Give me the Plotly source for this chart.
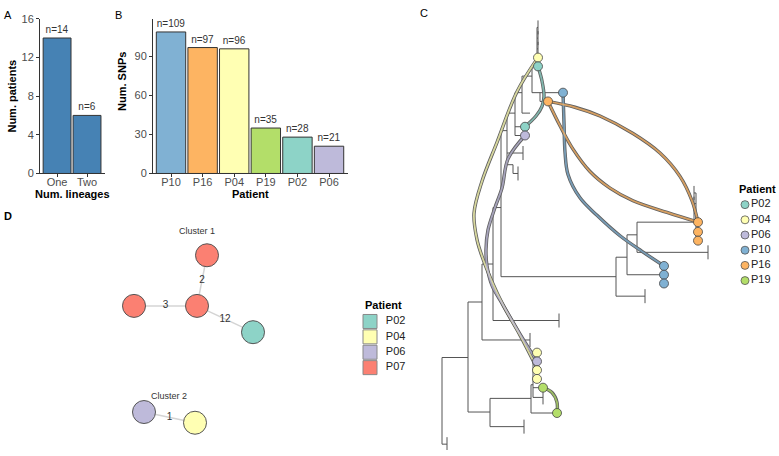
import plotly.graph_objects as go

# ---------------- data ----------------
lineage_cats = ["One", "Two"]
num_patients = [14, 6]

snp_patients = ["P10", "P16", "P04", "P19", "P02", "P06"]
num_snps = [109, 97, 96, 35, 28, 21]

patient_colors = {
    "P02": "#8DD3C7", "P04": "#FFFFB3", "P06": "#BEBADA",
    "P07": "#FB8072", "P10": "#80B1D3", "P16": "#FDB462", "P19": "#B3DE69",
}
tree_legend_patients = ["P02", "P04", "P06", "P10", "P16", "P19"]
net_legend_patients = ["P02", "P04", "P06", "P07"]

# phylogeny (rectangular layout): node id, parent, distance (x), row position (y), patient, tip-bar
tree_id = ["R", "t1", "N1", "N2", "N3", "N6", "t2", "N7", "t3", "P1", "Nb1",
           "P2", "t4", "P3", "t5", "U4", "tealB", "lav1", "t6", "U5", "Utop", "U6",
           "t7", "t8", "t8b", "yelA", "tealA", "blueA", "oraA",
           "Nb2", "t9", "Nb3", "Nbl", "Nor", "t10", "t11", "t12", "t12b", "or1", "or2", "or3",
           "bl1", "bl2", "bl3",
           "N4", "t13", "N5", "gr2", "y1", "lv2", "y2", "y3", "gr1", "t14"]
tree_parent = [None, "R", "R", "N1", "N1", "N2", "N2", "N6", "N6", "N7", "N7",
               "P1", "P1", "P1", "P3", "P2", "P2", "P2", "U4", "U4", "U5", "U5",
               "Utop", "Utop", "Utop", "Utop", "Utop", "U6", "U6",
               "Nb1", "Nb1", "Nb2", "Nb2", "Nb3", "Nb3", "Nor", "Nor", "Nor", "Nor", "Nor", "Nor",
               "Nbl", "Nbl", "Nbl",
               "N3", "N3", "N4", "N4", "N5", "N5", "N5", "N5", "N5", "N5"]
tree_x = [442, 447, 468, 482, 490, 493, 530, 501, 559, 507, 616,
          515, 523, 513, 518, 522, 525, 525, 530, 532, 537, 540,
          538, 538, 538, 538, 538, 563, 548,
          627, 645, 637, 663, 696, 708, 694, 694, 694, 698, 698, 698,
          664, 664, 664,
          531, 524, 533, 557, 537, 537, 537, 537, 543, 543]
tree_y = [361, 450, 361, 304, 417, 265, 343, 207, 323, 128, 278,
          110, 151, 163, 172, 89, 124, 133, 110, 72, 62, 89,
          22, 33, 44, 53, 62, 89, 98,
          258, 298, 235, 276, 222, 253, 192, 203, 213, 222, 232, 241,
          267, 276, 285,
          403, 432, 389, 418, 356, 365, 374, 383, 392, 402]
tree_patient = [None, None, None, None, None, None, None, None, None, None, None,
                None, None, None, None, None, "P02", "P06", None, None, None, None,
                None, None, None, "P04", "P02", "P10", "P16",
                None, None, None, None, None, None, None, None, None, "P16", "P16", "P16",
                "P10", "P10", "P10",
                None, None, None, "P19", "P04", "P06", "P04", "P04", "P19", None]
tree_tipbar = ["t1", "t2", "t3", "t4", "t5", "t7", "t8", "t8b", "t9", "t10",
               "t11", "t12", "t12b", "t13", "t14"]

# links between samples of the same patient
links = [
    ("P04", [538, 517, 497, 482, 474, 477, 482, 492, 503, 520, 537],
            [53, 88, 140, 180, 213, 240, 257, 283, 307, 338, 372]),
    ("P06", [525, 508, 502, 495, 488, 486, 487, 492, 503, 520, 537],
            [133, 157, 187, 207, 230, 250, 267, 287, 307, 337, 365]),
    ("P02", [538, 542, 544, 542, 536, 525],
            [62, 77, 93, 103, 113, 124]),
    ("P10", [563, 564, 565, 568, 580, 597, 620, 642, 664],
            [89, 120, 150, 173, 197, 215, 236, 252, 267]),
    ("P16", [548, 575, 600, 633, 660, 680, 692, 698],
            [98, 104, 113, 131, 151, 175, 200, 222]),
    ("P16", [548, 560, 573, 590, 610, 633, 667, 698],
            [98, 123, 147, 170, 187, 200, 212, 222]),
    ("P19", [543, 552, 557, 557],
            [392, 397, 407, 419]),
]

# transmission network
net_x = [207, 197, 134, 253, 144, 195]
net_y = [256, 308, 308, 335, 417, 428]
net_patient = ["P07", "P07", "P07", "P02", "P06", "P04"]
net_edges = [(0, 1), (2, 1), (1, 3), (4, 5)]
net_edge_snps = ["2", "3", "12", "1"]
cluster_names = ["Cluster 1", "Cluster 2"]
cluster_x = [197, 169]
cluster_y = [232, 401]

# ---------------- figure ----------------
W, H = 779, 456
FONT = "Liberation Sans, Arial, sans-serif"
fig = go.Figure()

fig.add_trace(go.Bar(
    x=lineage_cats, y=num_patients, xaxis="x", yaxis="y",
    marker=dict(color="#4682B4", line=dict(color="#333333", width=1)),
    text=[f"n={v}" for v in num_patients], textposition="outside",
    textfont=dict(size=10, color="#333333"), constraintext="none",
    cliponaxis=False, showlegend=False, hoverinfo="skip"))

fig.add_trace(go.Bar(
    x=snp_patients, y=num_snps, xaxis="x2", yaxis="y2",
    marker=dict(color=[patient_colors[p] for p in snp_patients],
                line=dict(color="#333333", width=1)),
    text=[f"n={v}" for v in num_snps], textposition="outside",
    textfont=dict(size=10, color="#333333"), constraintext="none",
    cliponaxis=False, showlegend=False, hoverinfo="skip"))

# tree
pos = {i: (x, y) for i, x, y in zip(tree_id, tree_x, tree_y)}
lx, ly = [], []
children = {}
for i, p in zip(tree_id, tree_parent):
    if p is not None:
        children.setdefault(p, []).append(i)
        px, _ = pos[p]
        x, y = pos[i]
        lx += [px, x, None]
        ly += [y, y, None]
for p, ch in children.items():
    px, py = pos[p]
    ys = [pos[c][1] for c in ch] + [py]
    lx += [px, px, None]
    ly += [min(ys), max(ys), None]
fig.add_trace(go.Scatter(x=lx, y=ly, xaxis="x3", yaxis="y3", mode="lines",
                         line=dict(color="#555555", width=1), showlegend=False,
                         hoverinfo="skip"))
fig.add_trace(go.Scatter(
    x=[pos[t][0] for t in tree_tipbar], y=[pos[t][1] for t in tree_tipbar],
    xaxis="x3", yaxis="y3", mode="markers",
    marker=dict(symbol="line-ns", size=10, line=dict(color="#555555", width=1)),
    showlegend=False, hoverinfo="skip"))

for pat, xs, ys in links:
    fig.add_trace(go.Scatter(x=xs, y=ys, xaxis="x3", yaxis="y3", mode="lines",
                             line=dict(color="#5f5f5f", width=3.4, shape="spline"),
                             showlegend=False, hoverinfo="skip"))
for pat, xs, ys in links:
    fig.add_trace(go.Scatter(x=xs, y=ys, xaxis="x3", yaxis="y3", mode="lines",
                             line=dict(color=patient_colors[pat], width=1.8, shape="spline"),
                             opacity=0.75, showlegend=False, hoverinfo="skip"))

tip_ids = [i for i, p in zip(tree_id, tree_patient) if p is not None]
fig.add_trace(go.Scatter(
    x=[pos[i][0] for i in tip_ids], y=[pos[i][1] for i in tip_ids],
    xaxis="x3", yaxis="y3", mode="markers",
    marker=dict(size=9, color=[patient_colors[p] for p in tree_patient if p is not None],
                line=dict(color="#444444", width=0.8)),
    showlegend=False, hoverinfo="skip"))

# tree legend
leg_c_y = [204 + 15.6 * k for k in range(len(tree_legend_patients))]
fig.add_trace(go.Scatter(
    x=[745] * len(tree_legend_patients), y=leg_c_y, xaxis="x3", yaxis="y3",
    mode="markers+text", text=tree_legend_patients, textposition="middle right",
    textfont=dict(size=11, color="#222222"),
    marker=dict(size=8, color=[patient_colors[p] for p in tree_legend_patients],
                line=dict(color="#555555", width=0.8)),
    cliponaxis=False, showlegend=False, hoverinfo="skip"))

# network
ex, ey, mx, my = [], [], [], []
for (a, b) in net_edges:
    ex += [net_x[a], net_x[b], None]
    ey += [net_y[a], net_y[b], None]
    mx.append((net_x[a] + net_x[b]) / 2)
    my.append((net_y[a] + net_y[b]) / 2)
fig.add_trace(go.Scatter(x=ex, y=ey, xaxis="x4", yaxis="y4", mode="lines",
                         line=dict(color="#d4d4d4", width=1.5),
                         showlegend=False, hoverinfo="skip"))
fig.add_trace(go.Scatter(x=mx, y=my, xaxis="x4", yaxis="y4", mode="text",
                         text=net_edge_snps, textfont=dict(size=10, color="#333333"),
                         showlegend=False, hoverinfo="skip"))
fig.add_trace(go.Scatter(x=net_x, y=net_y, xaxis="x4", yaxis="y4", mode="markers",
                         marker=dict(size=23, color=[patient_colors[p] for p in net_patient],
                                     line=dict(color="#555555", width=1)),
                         showlegend=False, hoverinfo="skip"))
fig.add_trace(go.Scatter(x=cluster_x, y=cluster_y, xaxis="x4", yaxis="y4", mode="text",
                         text=cluster_names, textfont=dict(size=9, color="#333333"),
                         showlegend=False, hoverinfo="skip"))
leg_d_y = [324 + 15.8 * k for k in range(len(net_legend_patients))]
fig.add_trace(go.Scatter(
    x=[370] * len(net_legend_patients), y=leg_d_y, xaxis="x4", yaxis="y4",
    mode="markers+text", text=["  " + p for p in net_legend_patients],
    textposition="middle right", textfont=dict(size=11, color="#222222"),
    marker=dict(symbol="square", size=14, color=[patient_colors[p] for p in net_legend_patients],
                line=dict(color="#888888", width=1)),
    cliponaxis=False, showlegend=False, hoverinfo="skip"))

axis_common = dict(showline=True, linecolor="#333333", linewidth=1, ticks="outside",
                   ticklen=3, tickcolor="#333333", tickfont=dict(size=11, color="#4d4d4d"),
                   showgrid=False, zeroline=False, fixedrange=True)
hidden = dict(visible=False, showgrid=False, zeroline=False, fixedrange=True)
ytop, ybot = 1 - 13 / H, 1 - 172 / H

fig.update_layout(
    width=W, height=H, margin=dict(l=0, r=0, t=0, b=0),
    paper_bgcolor="white", plot_bgcolor="rgba(0,0,0,0)",
    font=dict(family=FONT, color="#000000"),
    bargap=0.07,
    xaxis=dict(domain=[40 / W, 105 / W], anchor="y", type="category",
               range=[-0.57, 1.6], ticklabelstandoff=-5, **axis_common),
    yaxis=dict(domain=[ybot, ytop], anchor="x", range=[0, 16],
               tickvals=[0, 4, 8, 12, 16], **axis_common),
    xaxis2=dict(domain=[153 / W, 348 / W], anchor="y2", type="category",
                range=[-0.57, 5.6], ticklabelstandoff=-5, **axis_common),
    yaxis2=dict(domain=[ybot, ytop], anchor="x2", range=[0, 119.25],
                tickvals=[0, 30, 60, 90], **axis_common),
    xaxis3=dict(domain=[415 / W, 1], anchor="y3", range=[415, 779], **hidden),
    yaxis3=dict(domain=[0, 1], anchor="x3", range=[456, 0], **hidden),
    xaxis4=dict(domain=[0, 415 / W], anchor="y4", range=[0, 415], **hidden),
    yaxis4=dict(domain=[0, 256 / H], anchor="x4", range=[456, 200], **hidden),
)

def ann(text, x, y, size=11, bold=False, angle=0, xanchor="center", color="#000000"):
    fig.add_annotation(text=f"<b>{text}</b>" if bold else text, x=x / W, y=1 - y / H,
                       xref="paper", yref="paper", showarrow=False, textangle=angle,
                       xanchor=xanchor, yanchor="middle",
                       font=dict(size=size, color=color, family=FONT))

ann("A", 2, 9, xanchor="left")
ann("B", 113, 9, xanchor="left")
ann("C", 418, 7, xanchor="left")
ann("D", 2, 216, bold=True, xanchor="left")
ann("Num. lineages", 72, 193, bold=True)
ann("Num. patients", 12, 93, bold=True, angle=-90)
ann("Patient", 250, 193, bold=True)
ann("Num. SNPs", 122, 78, bold=True, angle=-90)
ann("Patient", 737, 188, bold=True, xanchor="left")
ann("Patient", 363, 307, bold=True, xanchor="left")

fig.write_html("out.html", config={"displayModeBar": False},
               post_script="document.body.style.margin='0px';")
